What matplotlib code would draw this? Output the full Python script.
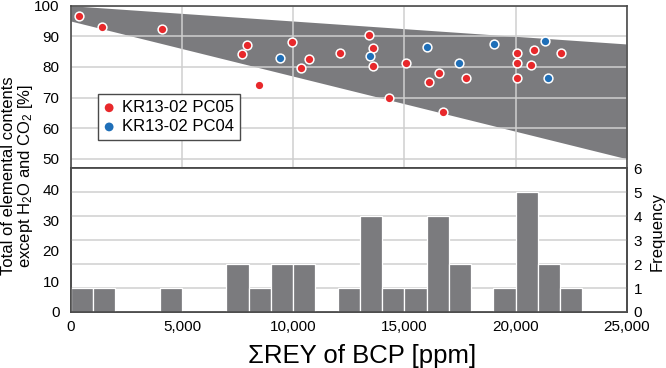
import matplotlib.pyplot as plt
import matplotlib.ticker as mticker
import numpy as np

plt.rcParams['font.family'] = ['Liberation Sans', 'DejaVu Sans']
plt.rcParams['mathtext.default'] = 'regular'

# KR13-02 PC05 (red)
pc05_rey = [387, 1394, 4105, 7914, 7703, 9960, 10715, 10355, 8481, 12109,
            13399, 13579, 13609, 14326, 15063, 16560, 16097, 16740, 17788,
            20054, 20083, 20054, 20832, 20697, 22050]
pc05_total = [96.7, 93.1, 92.5, 87.1, 84.1, 88.0, 82.7, 79.7, 74.0, 84.5,
              90.4, 86.3, 80.2, 70.0, 81.2, 77.9, 75.1, 65.4, 76.5,
              84.5, 81.4, 76.3, 85.6, 80.6, 84.5]

# KR13-02 PC04 (blue)
pc04_rey = [9425, 13474, 16021, 17473, 19047, 21340, 21462]
pc04_total = [83.0, 83.5, 86.5, 81.3, 87.6, 88.4, 76.5]

# grey envelope: upper and lower boundary lines
env_x = [0, 25000]
env_upper = [100, 87.5]
env_lower = [95, 50]

bin_edges = np.arange(0, 26000, 1000)

SPLIT = 46.9    # left-axis value where the two panels meet
FREQ_MAX = 6

RED = '#e8282b'
BLUE = '#1f6fb8'
GREY = '#7b7b7e'
SPINE = '#4a4a4a'
GRID = '#cfcfcf'

fig = plt.figure(figsize=(6.66, 3.68), dpi=100)
ax_top = fig.add_axes([0.1062, 0.5427, 0.8348, 0.4418])
ax_bot = fig.add_axes([0.1062, 0.1522, 0.8348, 0.3905])
ax_hist = ax_bot.twinx()

# --- scatter panel ---
ax_top.fill_between(env_x, env_lower, env_upper, color=GREY, lw=0, zorder=1)
ax_top.scatter(pc05_rey, pc05_total, s=40, color=RED, edgecolors='white',
               linewidths=1.1, zorder=3, label='KR13-02 PC05')
ax_top.scatter(pc04_rey, pc04_total, s=40, color=BLUE, edgecolors='white',
               linewidths=1.1, zorder=3, label='KR13-02 PC04')
ax_top.set_xlim(0, 25000)
ax_top.set_ylim(SPLIT, 100)
ax_top.set_yticks(np.arange(50, 101, 10))
ax_top.set_xticks(np.arange(0, 25001, 5000))
ax_top.tick_params(axis='x', labelbottom=False, length=0)
ax_top.tick_params(axis='y', length=0, pad=8, labelsize=11)
ax_top.set_axisbelow('line')
ax_top.grid(True, color=GRID, lw=1.1)

leg = ax_top.legend(loc='upper left', bbox_to_anchor=(0.0496, 0.455),
                    borderaxespad=0, fontsize=12, fancybox=False,
                    framealpha=1, edgecolor=SPINE, handlelength=0.6,
                    handletextpad=0.5, labelspacing=0.25,
                    borderpad=0.35, markerscale=1.0)
leg.get_frame().set_linewidth(1.0)
for h in leg.legend_handles:
    h.set_edgecolor('none')

# --- histogram panel ---
ax_hist.hist(pc05_rey + pc04_rey, bins=bin_edges, color=GREY,
             edgecolor='white', linewidth=0.9, zorder=2)
ax_hist.set_ylim(0, FREQ_MAX)
ax_hist.set_yticks(range(0, FREQ_MAX + 1))
ax_hist.tick_params(axis='y', length=0, pad=5, labelsize=11)
ax_hist.set_axisbelow(True)
ax_hist.grid(axis='y', color=GRID, lw=1.1)

ax_bot.set_xlim(0, 25000)
ax_bot.set_ylim(0, SPLIT)
ax_bot.set_yticks(np.arange(0, 41, 10))
ax_bot.set_xticks(np.arange(0, 25001, 5000))
ax_bot.xaxis.set_major_formatter(mticker.FuncFormatter(lambda v, p: f'{int(v):,}'))
ax_bot.tick_params(axis='both', length=0, labelsize=11)
ax_bot.tick_params(axis='y', pad=8)
ax_bot.tick_params(axis='x', pad=6)

for a in (ax_top, ax_bot, ax_hist):
    for sp in a.spines.values():
        sp.set_color(SPINE)
        sp.set_linewidth(1.2)

fig.text(0.027, 0.522, 'Total of elemental contents\nexcept H$_2$O and CO$_2$ [%]',
         rotation=90, ha='center', va='center', multialignment='center',
         fontsize=12, linespacing=1.0)
fig.text(0.543, 0.0136, 'ΣREY of BCP [ppm]', ha='center', va='baseline',
         fontsize=18.5)
fig.text(0.986, 0.370, 'Frequency', rotation=90, ha='center', va='center',
         fontsize=12)

fig.savefig('out.png', dpi=100)
